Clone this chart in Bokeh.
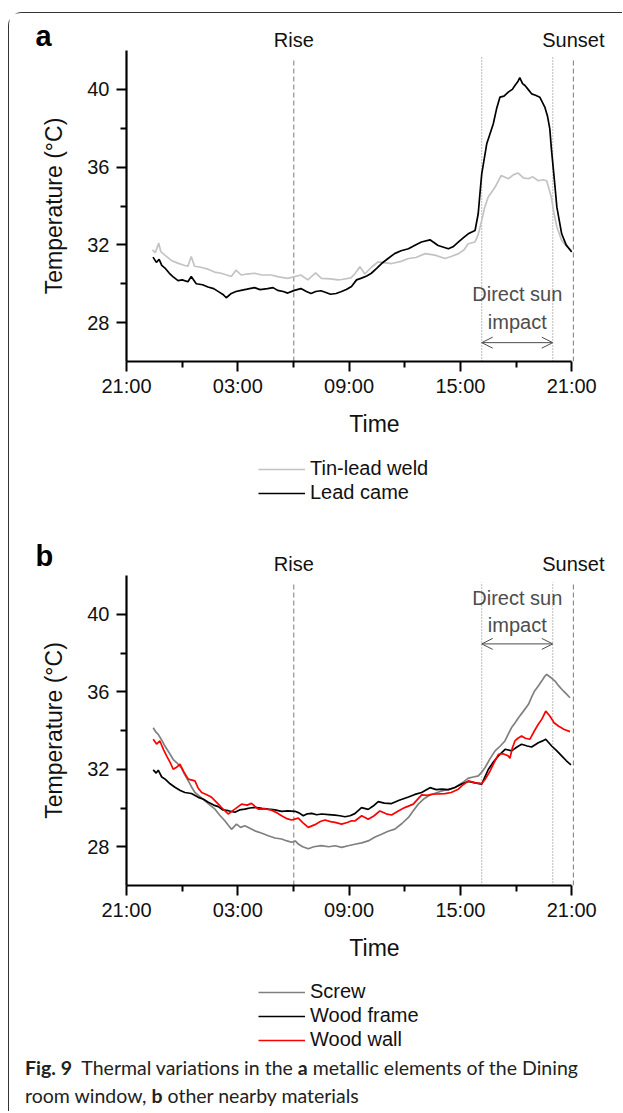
from bokeh.plotting import figure
from bokeh.models import (FixedTicker, Label, Arrow, OpenHead, Legend, LegendItem,
                          Div, Range1d)
from bokeh.layouts import column
from bokeh.embed import file_html
from bokeh.resources import INLINE

FONT = "Liberation Sans"

# ---------------- axis ticks (hours after 21:00) ----------------
x_ticks = [0, 6, 12, 18, 24]
x_tick_labels = ["21:00", "03:00", "09:00", "15:00", "21:00"]
x_minor = [3, 9, 15, 21]
y_ticks = [28, 32, 36, 40]
y_minor = [30, 34, 38]

# ---------------- events (hours after 21:00) ----------------
rise_t = 9.02
sun_start = 19.15
sun_end = 22.98
sunset_t = 24.09

# ---------------- panel a ----------------
weld_t = [1.40, 1.55, 1.74, 1.85, 2.1, 2.42, 2.8, 3.1, 3.31, 3.49, 3.67, 4.0, 4.39, 4.75,
          5.1, 5.4, 5.65, 5.9, 6.18, 6.5, 6.9, 7.3, 7.8, 8.2, 8.69, 9.0, 9.4, 9.77, 10.2,
          10.5, 11.0, 11.4, 11.6, 12.1, 12.3, 12.58, 12.85, 13.2, 13.57, 14.3, 14.8, 15.2,
          15.6, 16.1, 16.63, 17.17, 17.5, 17.9, 18.2, 18.42, 18.79, 18.95, 19.15, 19.3,
          19.5, 19.87, 20.2, 20.58, 20.85, 21.1, 21.4, 21.66, 21.9, 22.2, 22.45, 22.65,
          22.9, 23.05, 23.2, 23.46, 23.7, 24.0]
weld_T = [31.74, 31.6, 32.09, 31.65, 31.45, 31.2, 31.05, 30.95, 30.9, 31.4, 30.9, 30.85,
          30.75, 30.6, 30.54, 30.45, 30.37, 30.7, 30.45, 30.5, 30.54, 30.45, 30.45, 30.35,
          30.28, 30.35, 30.45, 30.2, 30.56, 30.28, 30.25, 30.2, 30.22, 30.3, 30.5, 30.88,
          30.5, 30.85, 31.13, 31.04, 31.15, 31.3, 31.35, 31.55, 31.47, 31.3, 31.4, 31.55,
          31.75, 32.06, 32.15, 32.5, 33.26, 33.9, 34.46, 34.97, 35.57, 35.4, 35.6, 35.7,
          35.45, 35.4, 35.5, 35.3, 35.35, 35.3, 34.46, 33.6, 32.92, 32.23, 31.95, 31.7]

came_t = [1.43, 1.61, 1.76, 1.9, 2.06, 2.3, 2.5, 2.78, 3.0, 3.31, 3.49, 3.76, 4.1, 4.39,
          4.7, 5.0, 5.2, 5.38, 5.65, 5.9, 6.18, 6.5, 6.9, 7.2, 7.6, 7.9, 8.15, 8.45, 8.69,
          9.05, 9.4, 9.7, 9.95, 10.2, 10.48, 10.75, 11.0, 11.3, 11.56, 11.85, 12.13, 12.4,
          12.67, 12.95, 13.2, 13.5, 13.75, 14.1, 14.45, 14.8, 15.2, 15.5, 15.9, 16.36, 16.8,
          17.35, 17.6, 17.9, 18.2, 18.42, 18.79, 18.96, 19.05, 19.15, 19.42, 19.77, 19.95,
          20.13, 20.35, 20.58, 20.8, 20.94, 21.1, 21.2, 21.35, 21.48, 21.65, 21.84, 22.05,
          22.28, 22.55, 22.7, 22.82, 22.9, 23.0, 23.1, 23.2, 23.46, 23.7, 24.0]
came_T = [31.37, 31.1, 31.25, 30.95, 30.82, 30.55, 30.37, 30.16, 30.2, 30.1, 30.37, 30.0,
          29.95, 29.83, 29.75, 29.57, 29.45, 29.28, 29.5, 29.6, 29.66, 29.72, 29.8, 29.7,
          29.75, 29.8, 29.66, 29.6, 29.52, 29.66, 29.75, 29.6, 29.5, 29.6, 29.64, 29.55,
          29.46, 29.5, 29.59, 29.7, 29.86, 30.2, 30.29, 30.4, 30.54, 30.8, 31.04, 31.3,
          31.55, 31.7, 31.8, 31.95, 32.15, 32.26, 31.97, 31.8, 31.9, 32.15, 32.4, 32.57,
          32.74, 33.6, 34.6, 35.65, 37.2, 38.22, 39.0, 39.6, 39.65, 39.86, 40.0, 40.2, 40.4,
          40.6, 40.3, 40.2, 40.0, 39.77, 39.7, 39.6, 39.09, 38.6, 37.97, 37.0, 36.0, 35.0,
          33.94, 32.57, 32.0, 31.63]

# ---------------- panel b ----------------
screw_t = [1.44, 1.6, 1.71, 1.9, 2.07, 2.3, 2.52, 2.75, 2.97, 3.15, 3.33, 3.5, 3.69, 3.95,
           4.23, 4.5, 4.77, 5.05, 5.3, 5.5, 5.66, 5.93, 6.15, 6.38, 6.65, 6.92, 7.3, 7.64,
           8.0, 8.36, 8.65, 8.9, 9.1, 9.26, 9.5, 9.8, 10.1, 10.5, 10.9, 11.25, 11.6, 11.95,
           12.31, 12.68, 13.03, 13.4, 13.75, 14.1, 14.47, 14.85, 15.2, 15.45, 15.73, 16.0,
           16.27, 16.6, 16.99, 17.35, 17.7, 18.1, 18.43, 18.7, 18.97, 19.15, 19.33, 19.6,
           19.87, 20.15, 20.4, 20.6, 20.76, 20.95, 21.13, 21.4, 21.67, 21.85, 22.0, 22.2,
           22.38, 22.55, 22.65, 22.85, 23.1, 23.3, 23.55, 23.75, 23.91]
screw_T = [34.14, 33.9, 33.8, 33.5, 33.2, 32.85, 32.5, 32.3, 32.05, 31.7, 31.4, 31.1, 30.8,
           30.6, 30.37, 30.15, 29.94, 29.6, 29.34, 29.1, 28.9, 29.17, 29.0, 29.08, 28.95,
           28.82, 28.7, 28.57, 28.45, 28.4, 28.3, 28.23, 28.3, 28.14, 28.0, 27.9, 28.0, 28.06,
           28.0, 28.05, 27.97, 28.05, 28.13, 28.2, 28.3, 28.5, 28.65, 28.8, 28.91, 29.2,
           29.51, 29.85, 30.2, 30.45, 30.62, 30.75, 30.88, 30.95, 31.06, 31.3, 31.54, 31.6,
           31.66, 31.85, 32.09, 32.55, 32.95, 33.2, 33.46, 33.85, 34.15, 34.4, 34.66, 35.0,
           35.35, 35.75, 36.04, 36.3, 36.55, 36.8, 36.9, 36.75, 36.55, 36.3, 36.04, 35.85,
           35.69]

frame_t = [1.44, 1.6, 1.71, 1.9, 2.07, 2.35, 2.61, 2.9, 3.15, 3.5, 3.87, 4.15, 4.41, 4.7,
           4.95, 5.2, 5.48, 5.84, 6.1, 6.38, 6.65, 6.92, 7.3, 7.64, 8.0, 8.36, 8.7, 9.08,
           9.3, 9.53, 9.75, 9.98, 10.25, 10.52, 10.9, 11.24, 11.5, 11.78, 12.05, 12.31,
           12.67, 13.03, 13.3, 13.57, 13.9, 14.29, 14.7, 15.2, 15.55, 15.91, 16.36, 16.7,
           16.99, 17.35, 17.7, 18.1, 18.43, 18.8, 19.15, 19.3, 19.51, 19.8, 20.05, 20.41,
           20.76, 21.05, 21.3, 21.6, 21.84, 22.2, 22.4, 22.6, 22.92, 23.2, 23.46, 23.7, 23.96]
frame_T = [31.97, 31.8, 31.95, 31.6, 31.5, 31.25, 31.07, 30.9, 30.8, 30.75, 30.55, 30.45,
           30.3, 30.15, 30.07, 29.9, 29.86, 29.78, 29.9, 29.94, 30.0, 30.03, 29.98, 29.94,
           29.9, 29.83, 29.85, 29.83, 29.75, 29.6, 29.7, 29.72, 29.65, 29.69, 29.66, 29.63,
           29.6, 29.55, 29.6, 29.71, 30.02, 29.93, 30.1, 30.33, 30.25, 30.23, 30.4, 30.57,
           30.7, 30.8, 31.05, 30.95, 30.97, 30.95, 31.06, 31.25, 31.37, 31.3, 31.23, 31.55,
           32.0, 32.4, 32.69, 33.03, 32.95, 33.15, 33.29, 33.2, 33.15, 33.37, 33.45, 33.55,
           33.2, 32.95, 32.69, 32.45, 32.22]

wall_t = [1.44, 1.62, 1.8, 2.0, 2.16, 2.35, 2.52, 2.7, 2.88, 3.1, 3.33, 3.69, 3.85, 4.05,
          4.3, 4.59, 4.95, 5.2, 5.48, 5.84, 6.2, 6.5, 6.74, 7.1, 7.5, 7.82, 8.1, 8.36, 8.65,
          8.9, 9.26, 9.5, 9.8, 10.16, 10.45, 10.7, 11.0, 11.24, 11.6, 11.9, 12.14, 12.31,
          12.68, 13.03, 13.35, 13.66, 14.0, 14.29, 14.65, 15.0, 15.46, 15.91, 16.2, 16.45,
          17.17, 17.5, 17.89, 18.15, 18.43, 18.8, 19.15, 19.35, 19.6, 19.85, 20.05, 20.3,
          20.58, 20.67, 20.8, 20.94, 21.1, 21.3, 21.5, 21.75, 22.0, 22.2, 22.4, 22.6, 22.82,
          23.05, 23.28, 23.6, 23.91]
wall_T = [33.55, 33.3, 33.46, 33.0, 32.69, 32.35, 32.0, 32.1, 32.26, 31.85, 31.49, 31.4,
          31.05, 30.8, 30.7, 30.55, 30.2, 29.95, 29.69, 29.94, 30.2, 30.15, 30.24, 29.94,
          29.95, 29.89, 29.75, 29.6, 29.45, 29.38, 29.48, 29.25, 29.0, 29.14, 29.3, 29.38,
          29.3, 29.26, 29.17, 29.25, 29.34, 29.33, 29.6, 29.42, 29.6, 29.85, 29.7, 29.64,
          29.85, 30.02, 30.2, 30.68, 30.65, 30.71, 30.74, 30.8, 30.97, 31.2, 31.4, 31.3,
          31.26, 31.5, 31.91, 32.4, 32.77, 32.8, 32.69, 32.57, 33.1, 33.46, 33.6, 33.72,
          33.6, 33.55, 34.0, 34.32, 34.6, 35.0, 34.75, 34.4, 34.23, 34.05, 33.94]

AX_COL = "#000000"
EVENT_COL = "#7a7a7a"
NOTE_COL = "#4d4d4d"
TXT_COL = "#111111"
W = 613            # figure width
LEFT = 117         # space left of the plotting frame
PX_H = 18.55       # pixels per hour
X_END = (W - LEFT) / PX_H


def base_fig(height, **kw):
    f = figure(width=W, height=height, output_backend="svg", toolbar_location=None,
               frame_align=False, **kw)
    f.grid.visible = False
    f.outline_line_color = None
    return f


def make_header(letter, height, letter_y, label_y):
    h = base_fig(height, x_range=Range1d(-LEFT / PX_H, X_END), y_range=Range1d(0, 1),
                 x_axis_location=None, y_axis_location=None,
                 min_border_left=0, min_border_right=0, min_border_top=0,
                 min_border_bottom=0)
    for t, txt in ((rise_t, "Rise"), (sunset_t, "Sunset")):
        h.add_layout(Label(x=t, y=label_y, x_units="data", y_units="screen", text=txt,
                           text_font=FONT, text_font_size="20px", text_align="center",
                           text_baseline="middle", text_color=TXT_COL))
    h.add_layout(Label(x=26, y=letter_y, x_units="screen", y_units="screen", text=letter,
                       text_font=FONT, text_font_size="29px", text_font_style="bold",
                       text_align="left", text_baseline="middle", text_color="#000000"))
    return h


def make_panel(series, frame_h, bottom, note_y, arrow_y):
    p = base_fig(frame_h + bottom, x_range=Range1d(0, X_END), y_range=Range1d(26, 42),
                 min_border_left=LEFT, min_border_right=0,
                 min_border_top=0, min_border_bottom=bottom)

    for ax in (p.xaxis[0], p.yaxis[0]):
        ax.axis_line_width = 2.2
        ax.axis_line_color = AX_COL
        ax.major_tick_line_width = 2
        ax.minor_tick_line_width = 2
        ax.major_tick_in = 0
        ax.major_tick_out = 10
        ax.minor_tick_in = 0
        ax.minor_tick_out = 6
        ax.major_label_text_font = FONT
        ax.major_label_text_font_size = "20px"
        ax.major_label_text_color = TXT_COL
        ax.axis_label_text_font = FONT
        ax.axis_label_text_font_size = "23px"
        ax.axis_label_text_font_style = "normal"
        ax.axis_label_text_color = TXT_COL

    p.xaxis.ticker = FixedTicker(ticks=x_ticks, minor_ticks=x_minor)
    p.xaxis.major_label_overrides = {t: lab for t, lab in zip(x_ticks, x_tick_labels)}
    p.xaxis.bounds = (0, 24)
    p.xaxis.axis_label = "Time"
    p.xaxis.major_label_standoff = 3
    p.xaxis.axis_label_standoff = 11

    p.yaxis.ticker = FixedTicker(ticks=y_ticks, minor_ticks=y_minor)
    p.yaxis.bounds = (26, 42)
    p.yaxis.axis_label = "Temperature (°C)"
    p.yaxis.major_label_standoff = 7
    p.yaxis.axis_label_standoff = 17

    # event lines
    p.segment(x0=[rise_t, sunset_t], y0=[26, 26], x1=[rise_t, sunset_t], y1=[41.6, 41.6],
              line_color=EVENT_COL, line_width=1, line_dash="5 3")
    p.segment(x0=[sun_start, sun_end], y0=[26, 26], x1=[sun_start, sun_end],
              y1=[41.65, 41.65], line_color=EVENT_COL, line_width=1, line_dash="1 2")

    for name, t, T, col in series:
        p.line(t, T, line_color=col, line_width=1.7)

    mid = (sun_start + sun_end) / 2
    p.add_layout(Label(x=mid, y=note_y[0], text="Direct sun", text_font=FONT,
                       text_font_size="20px", text_align="center", text_baseline="middle",
                       text_color=NOTE_COL))
    p.add_layout(Label(x=mid, y=note_y[1], text="impact", text_font=FONT,
                       text_font_size="20px", text_align="center", text_baseline="middle",
                       text_color=NOTE_COL))
    p.add_layout(Arrow(start=OpenHead(size=11, line_color=NOTE_COL, line_width=1),
                       end=OpenHead(size=11, line_color=NOTE_COL, line_width=1),
                       x_start=sun_start, y_start=arrow_y, x_end=sun_end, y_end=arrow_y,
                       line_color=NOTE_COL, line_width=1))
    return p


def make_legend(series, height):
    # the series are drawn outside this strip's ranges; only their legend glyphs show
    q = base_fig(height, x_range=Range1d(-2, -1), y_range=Range1d(0, 1),
                 x_axis_location=None, y_axis_location=None,
                 min_border_left=249, min_border_right=0, min_border_top=0,
                 min_border_bottom=0)
    items = []
    for name, t, T, col in series:
        r = q.line(t, T, line_color=col, line_width=1.7)
        items.append(LegendItem(label=name, renderers=[r]))
    leg = Legend(items=items, location="top_left", orientation="vertical",
                 glyph_width=47, glyph_height=20, label_height=20, label_standoff=5,
                 spacing=1, padding=0, margin=0, border_line_color=None,
                 background_fill_alpha=0, label_text_font=FONT,
                 label_text_font_size="20px", label_text_color=TXT_COL)
    q.add_layout(leg, "center")
    return q


series_a = [("Tin-lead weld", weld_t, weld_T, "#c3c3c3"),
            ("Lead came", came_t, came_T, "#000000")]
series_b = [("Screw", screw_t, screw_T, "#808080"),
            ("Wood frame", frame_t, frame_T, "#000000"),
            ("Wood wall", wall_t, wall_T, "#ff0000")]

ha = make_header("a", 37, letter_y=15, label_y=11)
pa = make_panel(series_a, frame_h=311, bottom=96, note_y=(29.49, 28.05), arrow_y=26.97)
la = make_legend(series_a, 49)
hb = make_header("b", 69, letter_y=20, label_y=12)
pb = make_panel(series_b, frame_h=310, bottom=95, note_y=(40.84, 39.45), arrow_y=38.47)
lb = make_legend(series_b, 74)

cap = Div(text=('<b>Fig. 9</b>&nbsp; Thermal variations in the <b>a</b> metallic elements '
                'of the Dining<br>room window, <b>b</b> other nearby materials'),
          width=W, height=57, margin=0,
          styles={"font-family": "Lato", "font-size": "19.5px", "line-height": "28px",
                  "padding-left": "16px", "color": "#222222"})

layout = column(ha, pa, la, hb, pb, lb, cap, margin=(12, 0, 0, 8),
                styles={"border-left": "1px solid #333333", "border-top": "1px solid #333333",
                        "border-top-left-radius": "14px"})

open("out.html", "w").write(file_html(layout, INLINE))
